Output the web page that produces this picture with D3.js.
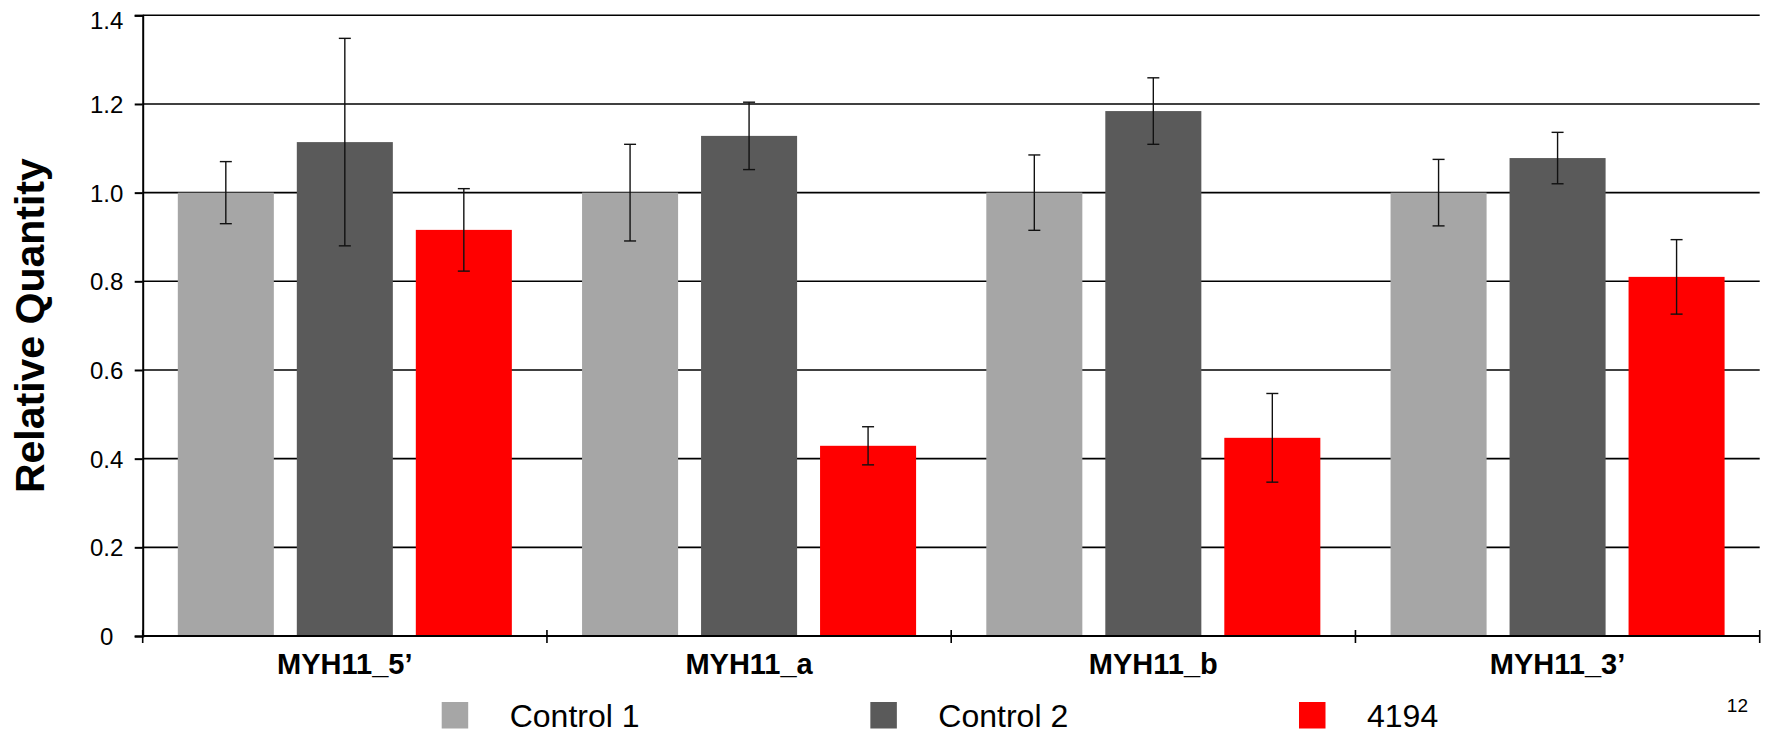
<!DOCTYPE html>
<html>
<head>
<meta charset="utf-8">
<script src="https://cdn.jsdelivr.net/npm/d3@7"></script>
<style>
  html, body { margin: 0; padding: 0; background: #fff; }
  svg { display: block; font-family: "Liberation Sans", Arial, sans-serif; }
</style>
</head>
<body>
<svg id="chart" width="1771" height="734"></svg>
<script>
// Relative quantity per amplicon, three samples, with error bars
const categories = ["MYH11_5\u2019", "MYH11_a", "MYH11_b", "MYH11_3\u2019"];
const seriesNames = ["Control 1", "Control 2", "4194"];
const seriesColors = ["#a6a6a6", "#5a5a5a", "#ff0000"];

const control1 = [1.0, 1.0, 1.0, 1.0];
const control2 = [1.114, 1.128, 1.184, 1.078];
const sample4194 = [0.916, 0.429, 0.447, 0.810];

const control1Err = [0.070, 0.109, 0.085, 0.075];
const control2Err = [0.234, 0.076, 0.075, 0.058];
const sample4194Err = [0.093, 0.043, 0.100, 0.084];

const yTickValues = [0, 0.2, 0.4, 0.6, 0.8, 1.0, 1.2, 1.4];
const yTickLabels = ["0", "0.2", "0.4", "0.6", "0.8", "1.0", "1.2", "1.4"];

const yTitle = "Relative Quantity";
const pageNumber = "12";

const seriesValues = [control1, control2, sample4194];
const seriesErrors = [control1Err, control2Err, sample4194Err];

const rows = [];
categories.forEach((c, i) => {
  seriesNames.forEach((s, j) => {
    rows.push({ cat: c, series: s, idx: j, value: seriesValues[j][i], err: seriesErrors[j][i] });
  });
});

const svg = d3.select("#chart");
const plotLeft = 142.7, plotRight = 1759.7, plotTop = 15.3, plotBottom = 636;

const x = d3.scaleBand().domain(categories).range([plotLeft, plotRight]).padding(0);
const xs = d3.scaleBand().domain(seriesNames).range([0, x.bandwidth()])
  .paddingInner(0.193).paddingOuter(0.295);
const y = d3.scaleLinear().domain([0, 1.4]).range([plotBottom, plotTop]);
const color = d3.scaleOrdinal().domain(seriesNames).range(seriesColors);

// horizontal gridlines
svg.append("g").selectAll("line")
  .data(yTickValues.filter(v => v > 0))
  .join("line")
  .attr("x1", plotLeft).attr("x2", plotRight)
  .attr("y1", d => y(d)).attr("y2", d => y(d))
  .attr("stroke", "#000").attr("stroke-width", 1.6);

// bars
svg.append("g").selectAll("rect")
  .data(rows)
  .join("rect")
  .attr("x", d => x(d.cat) + xs(d.series))
  .attr("width", xs.bandwidth())
  .attr("y", d => y(d.value))
  .attr("height", d => y(0) - y(d.value))
  .attr("fill", d => color(d.series));

// error bars
const eb = svg.append("g").attr("stroke", "#111").attr("stroke-width", 1.4);
rows.forEach(d => {
  const cx = x(d.cat) + xs(d.series) + xs.bandwidth() / 2;
  const y1 = y(d.value + d.err), y2 = y(d.value - d.err);
  eb.append("line").attr("x1", cx).attr("x2", cx).attr("y1", y1).attr("y2", y2);
  eb.append("line").attr("x1", cx - 6).attr("x2", cx + 6).attr("y1", y1).attr("y2", y1);
  eb.append("line").attr("x1", cx - 6).attr("x2", cx + 6).attr("y1", y2).attr("y2", y2);
});

// y axis
const yAxis = d3.axisLeft(y).tickValues(yTickValues).tickSize(8)
  .tickFormat((d, i) => yTickLabels[i]);
const gy = svg.append("g").attr("transform", `translate(${plotLeft},0)`).call(yAxis);
gy.select(".domain").attr("stroke", "#000").attr("stroke-width", 2);
gy.selectAll(".tick line").attr("stroke", "#000").attr("stroke-width", 2);
gy.selectAll(".tick text")
  .attr("x", -36).attr("text-anchor", "middle")
  .attr("font-family", "Liberation Sans, Arial, sans-serif")
  .attr("font-size", 24).attr("fill", "#000")
  .attr("dy", d => d === 1.4 ? "0.55em" : "0.36em");

// x axis with ticks between categories
const boundaries = categories.map(c => x(c)).concat([plotRight]);
svg.append("line").attr("x1", plotLeft).attr("x2", plotRight)
  .attr("y1", plotBottom).attr("y2", plotBottom)
  .attr("stroke", "#000").attr("stroke-width", 2);
svg.append("g").selectAll("line")
  .data(boundaries)
  .join("line")
  .attr("x1", d => d).attr("x2", d => d)
  .attr("y1", plotBottom - 6).attr("y2", plotBottom + 7)
  .attr("stroke", "#000").attr("stroke-width", 1.6);

svg.append("g").selectAll("text")
  .data(categories)
  .join("text")
  .attr("x", d => x(d) + x.bandwidth() / 2)
  .attr("y", 673.5)
  .attr("text-anchor", "middle")
  .attr("font-size", 29).attr("font-weight", "bold").attr("fill", "#000")
  .text(d => d);

// y title
svg.append("text")
  .attr("transform", `translate(43.5,${(plotTop + plotBottom) / 2}) rotate(-90)`)
  .attr("text-anchor", "middle")
  .attr("font-size", 41).attr("font-weight", "bold").attr("fill", "#000")
  .text(yTitle);

// legend
const legendX = d3.scalePoint().domain(seriesNames).range([441.7, 1299]);
const lg = svg.append("g").selectAll("g").data(seriesNames).join("g")
  .attr("transform", d => `translate(${legendX(d)},702)`);
lg.append("rect").attr("width", 26.5).attr("height", 26.5)
  .attr("fill", d => color(d));
lg.append("text").attr("x", 68).attr("y", 24.5)
  .attr("font-size", 32).attr("fill", "#000")
  .text(d => d);

// page number
svg.append("text")
  .attr("x", 1748).attr("y", 711.5)
  .attr("text-anchor", "end")
  .attr("font-size", 19).attr("fill", "#000")
  .text(pageNumber);
</script>
</body>
</html>
